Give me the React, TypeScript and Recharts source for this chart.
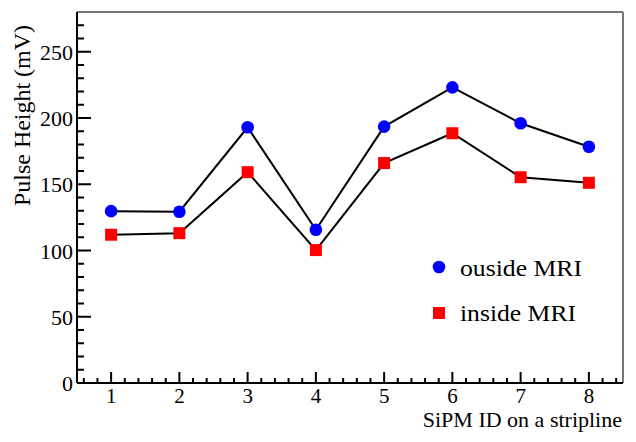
import React from "react";
import {
  Line,
  LineChart,
  ReferenceLine,
  XAxis,
  YAxis,
} from "recharts";

const sipmIds = [1, 2, 3, 4, 5, 6, 7, 8];
const outsideMri = [129.7, 129.3, 193.0, 115.7, 193.5, 223.1, 196.0, 178.3];
const insideMri = [111.9, 113.1, 159.1, 100.3, 166.0, 188.5, 155.3, 151.1];

const xTicks = [
  0.6, 0.8, 1, 1.2, 1.4, 1.6, 1.8, 2, 2.2, 2.4, 2.6, 2.8, 3, 3.2, 3.4, 3.6, 3.8,
  4, 4.2, 4.4, 4.6, 4.8, 5, 5.2, 5.4, 5.6, 5.8, 6, 6.2, 6.4, 6.6, 6.8, 7, 7.2,
  7.4, 7.6, 7.8, 8, 8.2, 8.4,
];
const yTicks = [
  0, 10, 20, 30, 40, 50, 60, 70, 80, 90, 100, 110, 120, 130, 140, 150, 160, 170,
  180, 190, 200, 210, 220, 230, 240, 250, 260, 270,
];

const data = sipmIds.map((id, i) => ({
  id,
  outside: outsideMri[i],
  inside: insideMri[i],
}));

const FONT = "'Liberation Serif', 'Times New Roman', serif";

const XTick = (props: any) => {
  const { x, y, payload } = props;
  const v = payload.value;
  const major = Math.abs(v - Math.round(v)) < 1e-6;
  return (
    <g>
      <line x1={x} x2={x} y1={y} y2={y - (major ? 11 : 5)} stroke="#000" strokeWidth={2} />
      {major && (
        <text x={x} y={y + 20} textAnchor="middle" fontSize={21} fontFamily={FONT} fill="#000">
          {Math.round(v)}
        </text>
      )}
    </g>
  );
};

const YTick = (props: any) => {
  const { x, y, payload } = props;
  const v = payload.value;
  const major = v % 50 === 0;
  return (
    <g>
      <line x1={x} x2={x + (major ? 14 : 7)} y1={y} y2={y} stroke="#000" strokeWidth={2} />
      {major && (
        <text x={x - 4} y={y + 8} textAnchor="end" fontSize={22} fontFamily={FONT} fill="#000">
          {v}
        </text>
      )}
    </g>
  );
};

const CircleDot = (props: any) => {
  const { cx, cy } = props;
  return <circle cx={cx} cy={cy} r={6.3} fill="#0000ff" />;
};

const SquareDot = (props: any) => {
  const { cx, cy } = props;
  return <rect x={cx - 6} y={cy - 6} width={12} height={12} fill="#ff0000" />;
};

export default function App() {
  return (
    <div style={{ position: "absolute", left: 0, top: 0, width: 636, height: 442, background: "#fff" }}>
      <LineChart
        width={636}
        height={442}
        data={data}
        margin={{ top: 12, right: 13, left: 0, bottom: 0 }}
      >
        <XAxis
          dataKey="id"
          type="number"
          domain={[0.5, 8.5]}
          ticks={xTicks}
          interval={0}
          tickSize={0}
          tickMargin={0}
          tick={<XTick />}
          axisLine={{ stroke: "#000", strokeWidth: 2 }}
          height={59}
        />
        <YAxis
          type="number"
          domain={[0, 280]}
          ticks={yTicks}
          interval={0}
          tickSize={0}
          tickMargin={0}
          tick={<YTick />}
          axisLine={{ stroke: "#000", strokeWidth: 2 }}
          width={77}
        />
        <ReferenceLine y={280} stroke="#777" strokeWidth={2} />
        <ReferenceLine x={8.5} stroke="#777" strokeWidth={2} />
        <Line
          dataKey="outside"
          stroke="#000"
          strokeWidth={2}
          dot={<CircleDot />}
          isAnimationActive={false}
        />
        <Line
          dataKey="inside"
          stroke="#000"
          strokeWidth={2}
          dot={<SquareDot />}
          isAnimationActive={false}
        />
      </LineChart>
      <svg
        width={636}
        height={442}
        style={{ position: "absolute", left: 0, top: 0, pointerEvents: "none" }}
      >
        <text x={622} y={427} textAnchor="end" fontSize={22} fontFamily={FONT} fill="#000">
          SiPM ID on a stripline
        </text>
        <text
          transform="translate(30,25) rotate(-90)"
          textAnchor="end"
          fontSize={23}
          fontFamily={FONT}
          fill="#000"
          textLength={181}
          lengthAdjust="spacingAndGlyphs"
        >
          Pulse Height (mV)
        </text>
        <circle cx={439} cy={267} r={6.3} fill="#0000ff" />
        <text
          x={460}
          y={276}
          fontSize={23}
          fontFamily={FONT}
          fill="#000"
          textLength={122}
          lengthAdjust="spacingAndGlyphs"
        >
          ouside MRI
        </text>
        <rect x={433} y={307} width={12} height={12} fill="#ff0000" />
        <text
          x={460}
          y={321}
          fontSize={23}
          fontFamily={FONT}
          fill="#000"
          textLength={116}
          lengthAdjust="spacingAndGlyphs"
        >
          inside MRI
        </text>
      </svg>
    </div>
  );
}
